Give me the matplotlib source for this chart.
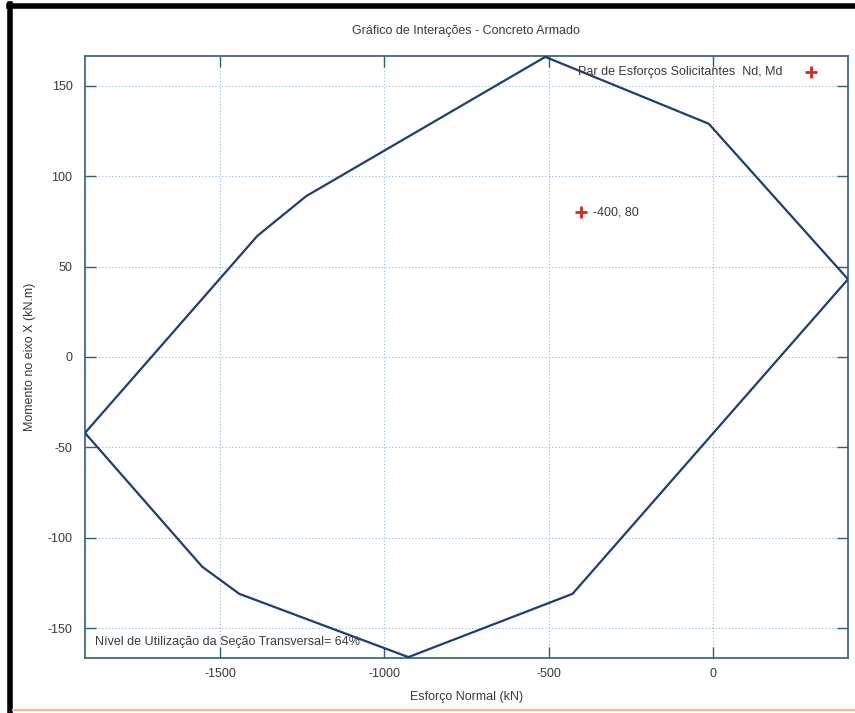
import matplotlib
matplotlib.use("Agg")
import matplotlib.pyplot as plt
from matplotlib.lines import Line2D

plt.rcParams['font.family'] = ['Liberation Sans', 'DejaVu Sans']
plt.rcParams['axes.unicode_minus'] = False

# Envoltória de interação (Nd, Md)
nd_envoltoria = [-510, -12, 412, -427, -927, -1442, -1555, -1912, -1387, -1238, -510]
md_envoltoria = [166, 129, 43, -131, -166, -131, -116, -42, 67, 89, 166]

# Par de esforços solicitantes
nd_solicitante = [-400]
md_solicitante = [80]

xticks = [-1500, -1000, -500, 0]
yticks = [-150, -100, -50, 0, 50, 100, 150]

cor_texto = '#3a3a3a'
cor_eixo = '#2f5f7a'

fig = plt.figure(figsize=(8.55, 7.13), dpi=100)
ax = fig.add_axes([0.0994, 0.0771, 0.8924, 0.8444])

ax.plot(nd_envoltoria, md_envoltoria, color='#1f3c78', lw=1.6, zorder=3)
ax.plot(nd_solicitante, md_solicitante, '+', color='#d42a1e', ms=9, mew=2, zorder=4)
ax.annotate(f"{nd_solicitante[0]}, {md_solicitante[0]}", (nd_solicitante[0], md_solicitante[0]),
            xytext=(8, 0), textcoords='offset points', va='center', fontsize=9, color=cor_texto)

ax.set_xlim(-1912, 412)
ax.set_ylim(-166.5, 166.5)
ax.set_xticks(xticks)
ax.set_yticks(yticks)
ax.tick_params(direction='in', length=8, width=1, color=cor_eixo, top=True, right=True,
               labelsize=9, labelcolor=cor_texto)
ax.tick_params(axis='y', pad=9)
ax.tick_params(axis='x', pad=7)
ax.grid(True, linestyle=(0, (1, 2)), color='#8fb8d8', lw=0.8)
for s in ax.spines.values():
    s.set_color(cor_eixo)
    s.set_linewidth(1.2)

ax.set_xlabel("Esforço Normal (kN)", fontsize=9, color=cor_texto, labelpad=8)
ax.set_ylabel("Momento no eixo X (kN.m)", fontsize=9, color=cor_texto, labelpad=8)
fig.text(0.545, 0.957, "Gráfico de Interações - Concreto Armado", ha='center', va='center',
         fontsize=9, color=cor_texto)

# legenda no estilo gnuplot
ax.text(0.914, 0.973, "Par de Esforços Solicitantes  Nd, Md", transform=ax.transAxes,
        ha='right', va='center', fontsize=9, color=cor_texto)
ax.add_line(Line2D([0.952], [0.973], transform=ax.transAxes, marker='+', color='#d42a1e',
                   ms=9, mew=2, ls='none'))

ax.text(0.013, 0.027, "Nível de Utilização da Seção Transversal= 64%", transform=ax.transAxes,
        ha='left', va='center', fontsize=9, color=cor_texto)

# moldura escaneada
fig.add_artist(Line2D([0.010, 1.0], [0.992, 0.992], color='black', lw=4))
fig.add_artist(Line2D([0.012, 0.012], [0.0, 0.994], color='black', lw=4))
fig.add_artist(Line2D([0.015, 1.0], [0.004, 0.004], color='#f5b89a', lw=1.5))

fig.savefig("out.png", dpi=100)
